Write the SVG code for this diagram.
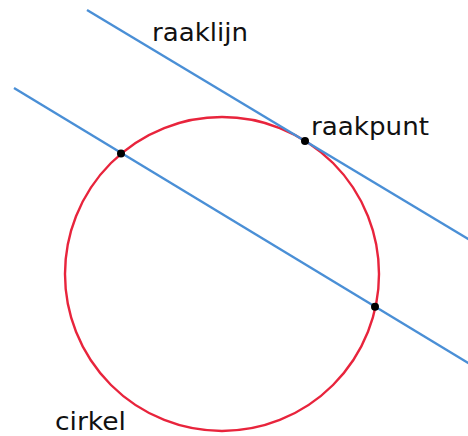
<svg xmlns="http://www.w3.org/2000/svg" width="468" height="436" viewBox="0 0 468 436">
<style>
.line{stroke:#4a8fd6;stroke-width:2.4;fill:none}
.circ{stroke:#e8243c;stroke-width:2.4;fill:none}
.pt{fill:#000}
text{font-family:"DejaVu Sans",Verdana,sans-serif;font-size:24px;fill:#111}
</style>
<rect width="468" height="436" fill="#fff"/>
<g id="cirkel"><circle class="circ" cx="222" cy="274" r="157"/></g>
<g id="lines">
<line id="raaklijn-line" class="line" x1="87" y1="10" x2="470" y2="240"/>
<line id="snijlijn" class="line" x1="14" y1="88" x2="470" y2="364"/>
</g>
<g id="points">
<circle class="pt" cx="305" cy="141" r="4"/>
<circle class="pt" cx="121" cy="153.5" r="4"/>
<circle class="pt" cx="375" cy="306.8" r="4"/>
</g>
<g id="labels">
<text x="152" y="40.5" textLength="96" lengthAdjust="spacingAndGlyphs">raaklijn</text>
<text x="311" y="135" textLength="118" lengthAdjust="spacingAndGlyphs">raakpunt</text>
<text x="55" y="430" textLength="71" lengthAdjust="spacingAndGlyphs">cirkel</text>
</g>
</svg>
